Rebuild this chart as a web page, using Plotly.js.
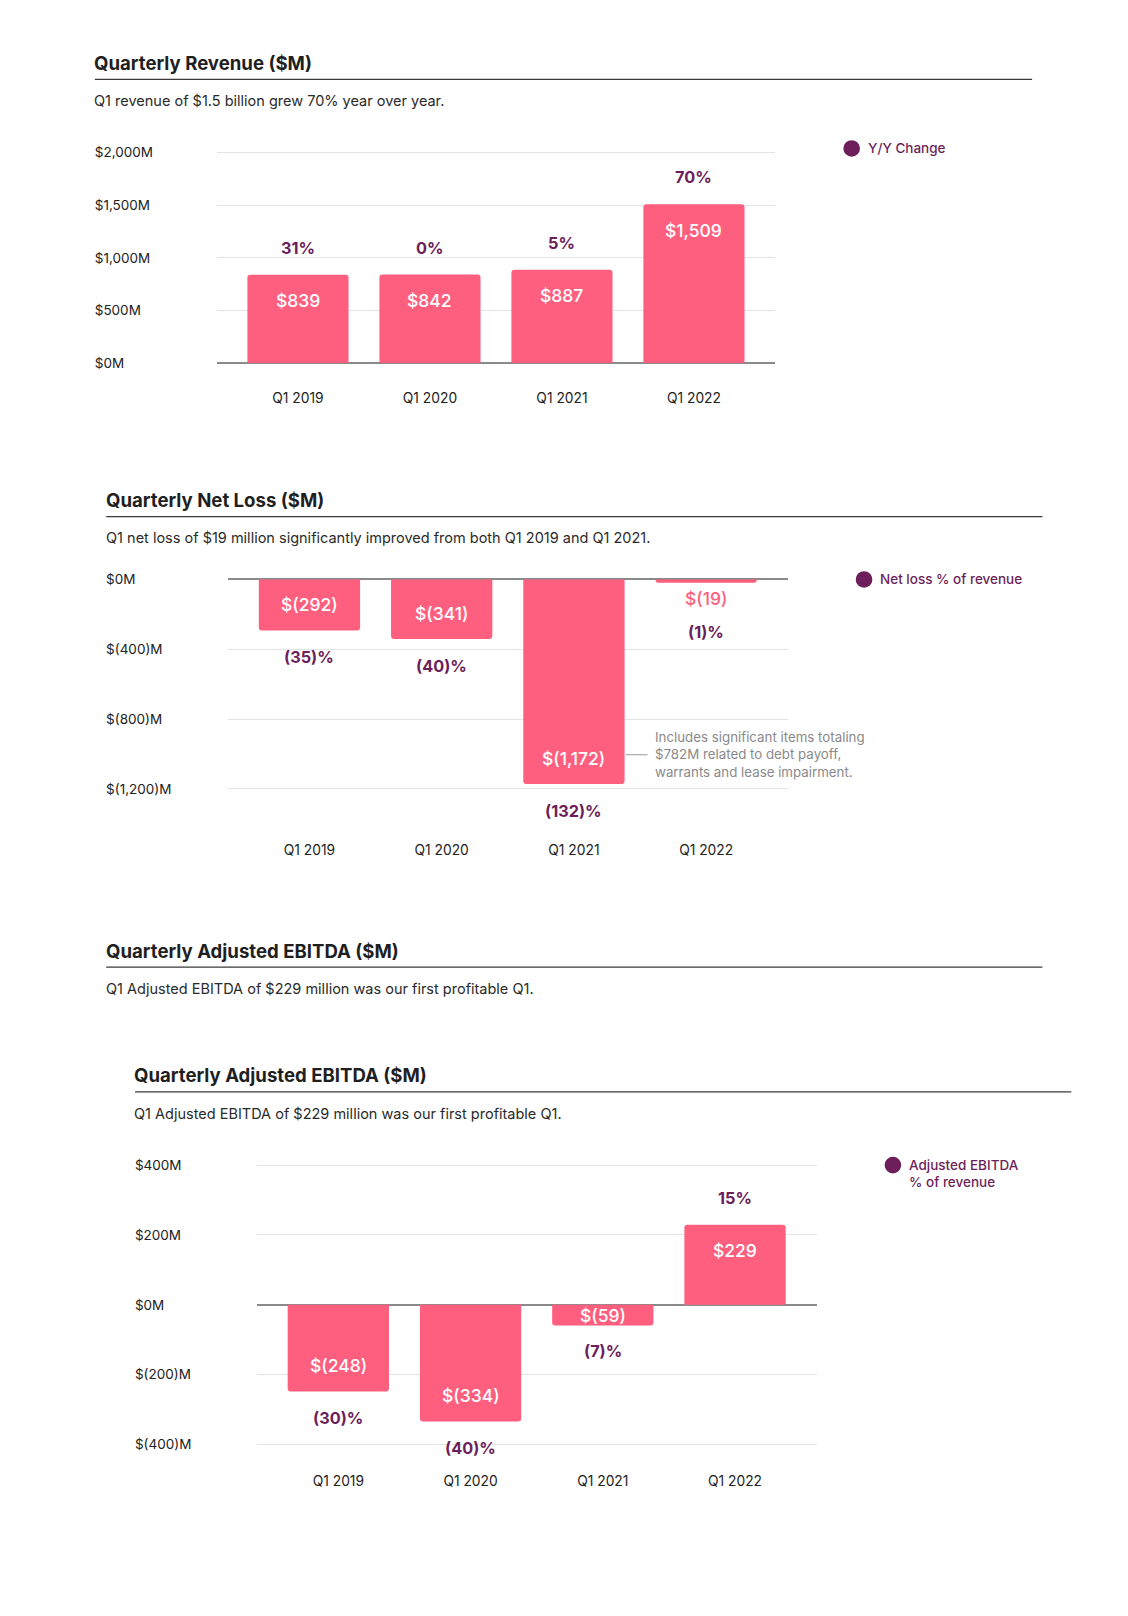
<!DOCTYPE html>
<html>
<head>
<meta charset="utf-8">
<script src="https://cdn.plot.ly/plotly-3.0.1.min.js"></script>
<style>
  html, body { margin: 0; padding: 0; background: #ffffff; }
  #chart { width: 1128px; height: 1616px; }
</style>
</head>
<body>
<div id="chart"></div>
<script>
// ---------------- DATA ----------------
const categories = ['Q1 2019', 'Q1 2020', 'Q1 2021', 'Q1 2022'];

const revenue = [839, 842, 887, 1509];
const revenueYoY = [31, 0, 5, 70];
const revenueTicks = [0, 500, 1000, 1500, 2000];
const revenueTickText = ['$0M', '$500M', '$1,000M', '$1,500M', '$2,000M'];

const netLoss = [-292, -341, -1172, -19];
const netLossPct = [-35, -40, -132, -1];
const netLossTicks = [0, -400, -800, -1200];
const netLossTickText = ['$0M', '$(400)M', '$(800)M', '$(1,200)M'];

const ebitda = [-248, -334, -59, 229];
const ebitdaPct = [-30, -40, -7, 15];
const ebitdaTicks = [400, 200, 0, -200, -400];
const ebitdaTickText = ['$400M', '$200M', '$0M', '$(200)M', '$(400)M'];

const netLossNote = 'Includes significant items totaling<br>$782M related to debt payoff,<br>warrants and lease impairment.';

// ---------------- STYLE ----------------
const W = 1128, H = 1616;
const S = 1128 / 1094;            // layout measured on a reduced view
const PINK = '#FF5F7F';
const PURPLE = '#6C1F5B';
const DARK = '#222222';
const FONT = 'Inter, "Noto Sans", sans-serif';
const px = x => x * S / W;
const py = y => 1 - y * S / H;
const PAD = 2;                    // keeps edge gridlines visible
const TXT = 2.5;                  // annotation inner padding compensation

function fmtMoney(v) {
  const s = Math.abs(v).toLocaleString('en-US');
  return v < 0 ? '$(' + s + ')' : '$' + s;
}
function fmtPct(v) {
  return v < 0 ? '(' + Math.abs(v) + ')%' : v + '%';
}

const panels = [
  { id: '', lab: '4', values: revenue, pcts: revenueYoY, x0: 210, x1: 752, top: 148, bottom: 352,
    range: [0, 2000], ticks: revenueTicks, tickText: revenueTickText, labelX: 88, standoff: 23,
    title: 'Quarterly Revenue ($M)', titleX: 92, titleY: 61, lineEnd: 1001,
    sub: 'Q1 revenue of $1.5 billion grew 70% year over year.',
    legend: ['Y/Y Change'], dotX: 826, dotY: 144 },
  { id: '2', lab: '5', values: netLoss, pcts: netLossPct, x0: 221, x1: 764, top: 562, bottom: 765,
    range: [-1200, 0], ticks: netLossTicks, tickText: netLossTickText, labelX: 99, standoff: 49,
    title: 'Quarterly Net Loss ($M)', titleX: 103, titleY: 485, lineEnd: 1011,
    sub: 'Q1 net loss of $19 million significantly improved from both Q1 2019 and Q1 2021.',
    legend: ['Net loss % of revenue'], dotX: 838, dotY: 562 },
  { id: '3', lab: '6', values: ebitda, pcts: ebitdaPct, x0: 249, x1: 792, top: 1130, bottom: 1401,
    range: [-400, 400], ticks: ebitdaTicks, tickText: ebitdaTickText, labelX: 127, standoff: 25,
    title: 'Quarterly Adjusted EBITDA ($M)', titleX: 131, titleY: 1043, lineEnd: 1039,
    sub: 'Q1 Adjusted EBITDA of $229 million was our first profitable Q1.',
    legend: ['Adjusted EBITDA', '% of revenue'], dotX: 866, dotY: 1130 }
];

const data = [];
const layout = {
  width: W, height: H,
  margin: { l: 0, r: 0, t: 0, b: 0, pad: 0 },
  paper_bgcolor: '#ffffff', plot_bgcolor: '#ffffff',
  showlegend: false,
  font: { family: FONT, color: DARK, size: 13.5 },
  annotations: [], shapes: []
};

function header(title, x, y, lineEnd, sub) {
  layout.annotations.push({
    xref: 'paper', yref: 'paper', x: px(x - TXT), y: py(y), xanchor: 'left', yanchor: 'middle',
    text: title, showarrow: false, font: { family: FONT, size: 18.6, color: '#1f1f1f', weight: 700 }
  });
  layout.shapes.push({
    type: 'line', xref: 'paper', yref: 'paper', x0: px(x), x1: px(lineEnd), y0: py(y + 16), y1: py(y + 16),
    line: { color: '#3a3a3a', width: 1.3 }
  });
  layout.annotations.push({
    xref: 'paper', yref: 'paper', x: px(x - TXT), y: py(y + 37), xanchor: 'left', yanchor: 'middle',
    text: sub, showarrow: false, font: { family: FONT, size: 14.5, color: '#2a2a2a' }
  });
}

// extra (repeated) header for the EBITDA section
header('Quarterly Adjusted EBITDA ($M)', 103, 922, 1011,
       'Q1 Adjusted EBITDA of $229 million was our first profitable Q1.');

panels.forEach(p => {
  const xa = 'x' + p.id, ya = 'y' + p.id, yl = 'y' + p.lab;
  const xKey = 'xaxis' + p.id, yKey = 'yaxis' + p.id, ylKey = 'yaxis' + p.lab;
  const pxPerUnit = (p.bottom - p.top) / (p.range[1] - p.range[0]);
  const padU = PAD / pxPerUnit;
  const rng = [p.range[0] - padU, p.range[1] + padU];

  data.push({
    type: 'bar', x: categories, y: p.values, xaxis: xa, yaxis: ya,
    width: 0.766, marker: { color: PINK, cornerradius: 3 }, hoverinfo: 'skip'
  });
  // carrier trace for the left-aligned tick label axis
  data.push({
    type: 'scatter', mode: 'markers', x: categories, y: p.values, xaxis: xa, yaxis: yl,
    marker: { opacity: 0 }, hoverinfo: 'skip', showlegend: false
  });

  layout[xKey] = {
    domain: [px(p.x0), px(p.x1)], anchor: ya, type: 'category',
    range: [-0.617, categories.length - 1 + 0.617],
    showgrid: false, zeroline: false, showline: false, ticks: '',
    ticklabelstandoff: p.standoff, tickfont: { family: FONT, size: 13.8, color: DARK },
    fixedrange: true
  };
  layout[yKey] = {
    domain: [py(p.bottom + PAD), py(p.top - PAD)], anchor: xa, range: rng,
    tickvals: p.ticks, showticklabels: false, ticks: '',
    showgrid: true, gridcolor: '#e4e4e4', gridwidth: 1,
    zeroline: true, zerolinecolor: '#8a8a8a', zerolinewidth: 2,
    showline: false, fixedrange: true
  };
  layout[ylKey] = {
    overlaying: ya, anchor: 'free', position: px(p.labelX), side: 'left',
    range: rng, tickvals: p.ticks, ticktext: p.tickText,
    ticklabelposition: 'inside', ticklabeloverflow: 'allow',
    ticks: '', showgrid: false, zeroline: false, showline: false,
    tickfont: { family: FONT, size: 13.5, color: DARK }, fixedrange: true
  };

  // bar labels
  p.values.forEach((v, i) => {
    const dir = v >= 0 ? 1 : -1;
    const barPx = Math.abs(v) * pxPerUnit;
    let valY = v, valShift, valColor = '#ffffff', pctShift;
    if (barPx >= 40) { valShift = -dir * 25; pctShift = dir * 26; }
    else if (barPx >= 15) { valY = v / 2; valShift = 0; pctShift = dir * 25; }
    else { valShift = dir * 15; valColor = PINK; pctShift = dir * 48; }
    layout.annotations.push({
      xref: xa, yref: ya, x: categories[i], y: valY, yshift: valShift * S,
      xanchor: 'center', yanchor: 'middle', showarrow: false,
      text: fmtMoney(v), font: { family: FONT, size: 17.5, color: valColor, weight: 500 }
    });
    layout.annotations.push({
      xref: xa, yref: ya, x: categories[i], y: v, yshift: pctShift * S,
      xanchor: 'center', yanchor: 'middle', showarrow: false,
      text: fmtPct(p.pcts[i]), font: { family: FONT, size: 16.3, color: PURPLE, weight: 700 }
    });
  });

  header(p.title, p.titleX, p.titleY, p.lineEnd, p.sub);

  // legend dot + text
  layout.shapes.push({
    type: 'circle', xref: 'paper', yref: 'paper', xsizemode: 'pixel', ysizemode: 'pixel',
    xanchor: px(p.dotX), yanchor: py(p.dotY), x0: -8.3, x1: 8.3, y0: -8.3, y1: 8.3,
    fillcolor: PURPLE, line: { width: 0 }
  });
  p.legend.forEach((t, k) => {
    layout.annotations.push({
      xref: 'paper', yref: 'paper', x: px(p.dotX + 16 - TXT), y: py(p.dotY + k * 16),
      xanchor: 'left', yanchor: 'middle', showarrow: false,
      text: t, font: { family: FONT, size: 13.5, color: PURPLE, weight: 500 }
    });
  });
});

// note on net loss chart
layout.annotations.push({
  xref: 'paper', yref: 'paper', x: px(636 - TXT), y: py(732), xanchor: 'left', yanchor: 'middle',
  align: 'left', showarrow: false, text: netLossNote,
  font: { family: FONT, size: 13.3, color: '#8a8a8a' }
});
layout.shapes.push({
  type: 'line', xref: 'paper', yref: 'paper', x0: px(607), x1: px(628), y0: py(732), y1: py(732),
  line: { color: '#9a9a9a', width: 1 }
});

Plotly.newPlot('chart', data, layout, { staticPlot: true, displayModeBar: false });
</script>
</body>
</html>
